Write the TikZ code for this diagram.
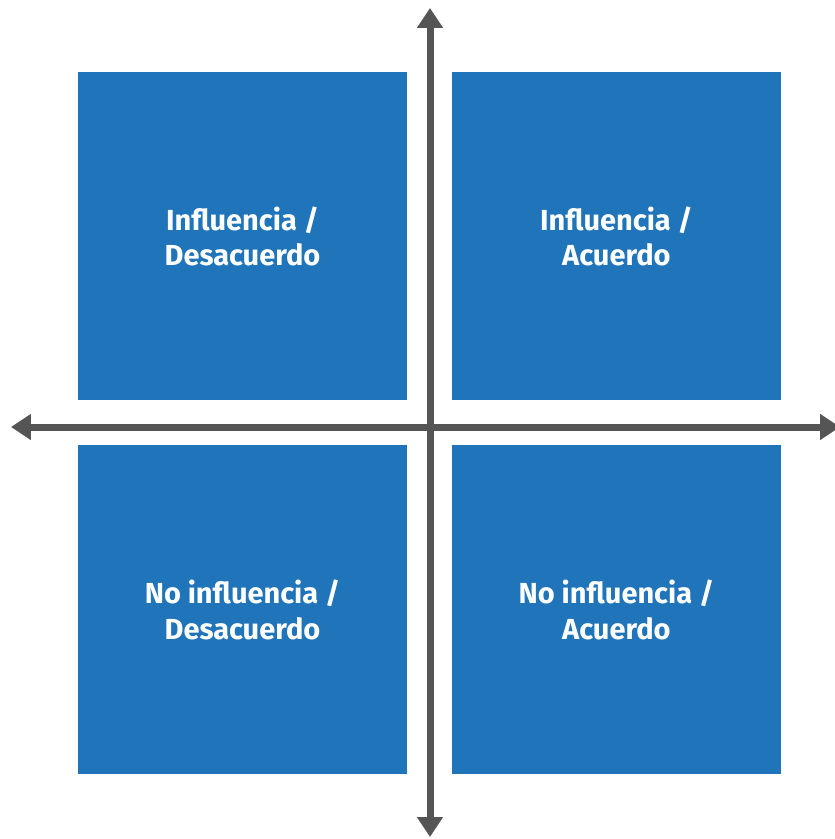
\documentclass[tikz,border=0pt]{standalone}
\usepackage{fontspec}
\setmainfont{Fira Sans}
\usetikzlibrary{positioning,arrows.meta}
\definecolor{quadblue}{RGB}{31,116,186}
\definecolor{axisgray}{RGB}{85,85,85}

\begin{document}
\begin{tikzpicture}[x=0.02cm,y=-0.02cm,
    quad/.style={fill=quadblue,inner sep=0pt,outer sep=0pt,minimum size=6.58cm,
      text=white,font=\bfseries\fontsize{16.5}{20}\selectfont,align=center},
    axis/.style={axisgray,line width=0.14cm,{Triangle[width=0.5cm,length=0.4cm]}-{Triangle[width=0.5cm,length=0.4cm]}}]
  \useasboundingbox (0,0) rectangle (835,839);
  % quadrants
  \node[quad] (tl) at (242.5,236) {Influencia /\\Desacuerdo};
  \node[quad,right=0.9cm of tl] (tr) {Influencia /\\Acuerdo};
  \node[quad,below=0.9cm of tl] (bl) {No influencia /\\Desacuerdo};
  \node[quad,right=0.9cm of bl] (br) {No influencia /\\Acuerdo};
  % axes
  \coordinate (up) at (430,8);
  \coordinate (down) at (430,837);
  \coordinate (left) at (11,427);
  \coordinate (right) at (840,427);
  \draw[axis] (down) -- (up);
  \draw[axis] (left) -- (right);
\end{tikzpicture}
\end{document}
